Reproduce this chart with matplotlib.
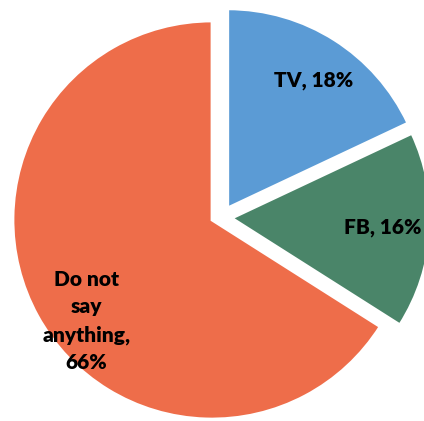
import matplotlib
matplotlib.use('Agg')
import matplotlib.pyplot as plt
import numpy as np

labels = ['TV', 'FB', 'Do not\nsay\nanything']
shares = [18, 16, 66]
colors = ['#5B9BD5', '#4A8569', '#EE6D4A']

# layout: how far each wedge is pulled out, and in which direction
# (degrees added to the wedge's mid angle)
pull = [0.1, 0.1, 0.0]
pull_turn = [-20, 9, 0]
label_dist = [0.77, 0.76, 0.81]
label_turn = [-1.5, 0, 10]

fig = plt.figure(figsize=(4.24, 4.21), dpi=100)
ax = fig.add_axes([0, 0, 1, 1])

wedges, _ = ax.pie(shares, colors=colors, startangle=90,
                   counterclock=False, radius=1.0,
                   wedgeprops=dict(edgecolor='white', linewidth=2))

for w, lab, val, p, pt, d, lt in zip(wedges, labels, shares, pull, pull_turn,
                                     label_dist, label_turn):
    mid = (w.theta1 + w.theta2) / 2
    a = np.deg2rad(mid + pt)
    w.set_center((p * np.cos(a), p * np.sin(a)))
    cx, cy = w.center
    b = np.deg2rad(mid + lt)
    sep = ',\n' if '\n' in lab else ', '
    ax.text(cx + d * np.cos(b), cy + d * np.sin(b), lab + sep + str(val) + '%',
            ha='center', va='center', fontsize=15, fontweight='heavy',
            family=['Lato', 'DejaVu Sans'], linespacing=1.55, color='black')

ax.set_xlim(-1.06 * 1.005, 1.06 * 1.005)
ax.set_ylim(-1.005 * 1.005, 1.10 * 1.005)
ax.set_aspect('auto')
ax.axis('off')

fig.savefig('out.png', dpi=100)
